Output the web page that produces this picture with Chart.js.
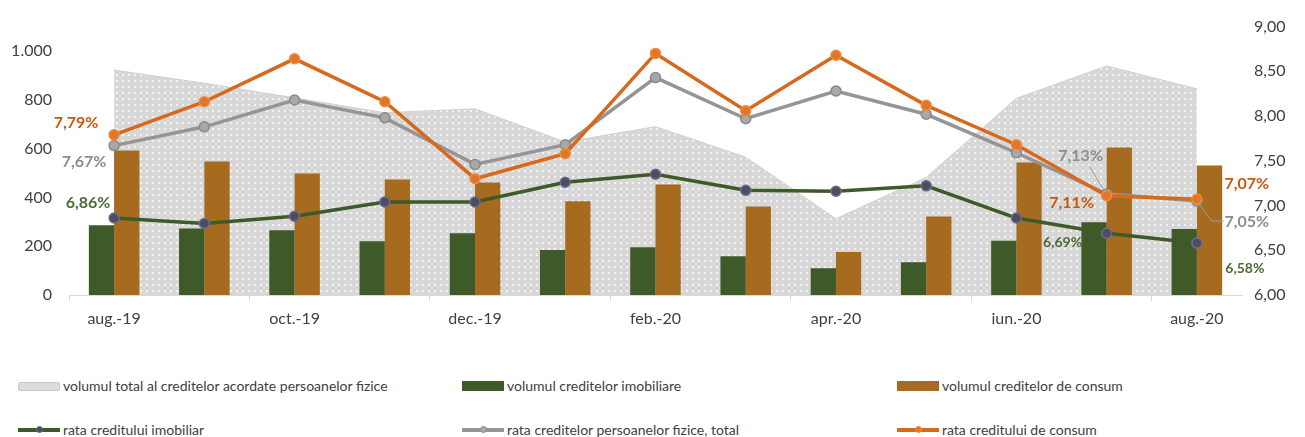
<!DOCTYPE html>
<html>
<head>
<meta charset="utf-8">
<script src="https://cdn.jsdelivr.net/npm/chart.js@4.4.1/dist/chart.umd.min.js"></script>
<style>
	body { margin: 0; background: #fff; font-family: Lato, sans-serif; }
	#wrap { position: relative; width: 1305px; height: 437px; }
	#chartBox { position: absolute; left: 0; top: 0; width: 1305px; height: 345px; }
	.leg { position: absolute; height: 16px; font-size: 14px; line-height: 16px; color: #404040; white-space: nowrap; }
	.leg .sym { position: absolute; left: 0; top: 0; width: 42px; height: 16px; }
	.leg .txt { position: absolute; left: 45px; top: 0; }
</style>
</head>
<body>
<div id="wrap">
	<div id="chartBox"><canvas id="creditChart"></canvas></div>
	<div id="legend"></div>
</div>
<script>
"use strict";

var categories = ["aug.-19", "sep.-19", "oct.-19", "nov.-19", "dec.-19", "ian.-20", "feb.-20", "mar.-20", "apr.-20", "mai.-20", "iun.-20", "iul.-20", "aug.-20"];
var volumTotal = [922, 868, 808, 747, 763, 627, 690, 565, 313, 482, 806, 939, 845];
var volumImobiliare = [286, 273, 265, 220, 253, 184, 196, 159, 110, 134, 222, 298, 270];
var volumConsum = [592, 547, 498, 473, 461, 384, 453, 363, 176, 322, 543, 604, 531];
var rataImobiliar = [6.86, 6.80, 6.88, 7.04, 7.04, 7.26, 7.35, 7.17, 7.16, 7.22, 6.86, 6.69, 6.58];
var rataTotal = [7.67, 7.88, 8.18, 7.98, 7.46, 7.68, 8.43, 7.97, 8.28, 8.02, 7.59, 7.13, 7.05];
var rataConsum = [7.79, 8.16, 8.64, 8.16, 7.30, 7.58, 8.70, 8.06, 8.68, 8.12, 7.68, 7.11, 7.07];
var leftTicks = [0, 200, 400, 600, 800, 1000];
var rightTicks = [6, 6.5, 7, 7.5, 8, 8.5, 9];

var GREEN = "#3e5a28";
var BROWN = "#a66b1e";
var ORANGE = "#d8691c";
var GRAY = "#959595";

// dotted fill for the total volume area
function dotPattern() {
	var c = document.createElement("canvas");
	c.width = 6;
	c.height = 6;
	var g = c.getContext("2d");
	g.fillStyle = "#d7d7d7";
	g.fillRect(0, 0, 6, 6);
	g.fillStyle = "#f3f3f3";
	g.fillRect(2, 2, 2, 2);
	return g.createPattern(c, "repeat");
}

function pct(v) {
	return v.toFixed(2).replace(".", ",") + "%";
}

// labels at the first and last two points: [dataset, index, dx, dy, size, leader]
var labelSpots = [
	[3, 0, -26, -15, 16], [4, 0, -30, 16, 16], [5, 0, -38, -12, 16],
	[4, 11, -26, -38, 16, [[-17, -27], [-3, -4]]], [5, 11, -35, 7, 16], [3, 11, -44, 9, 14],
	[5, 12, 50, -15, 16], [4, 12, 50, 21, 16, [[2, 3], [15, 20], [27, 20]]], [3, 12, 48, 25, 14]
];

var pointLabels = {
	id: "pointLabels",
	afterDatasetsDraw: function (chart) {
		var ctx = chart.ctx;
		ctx.save();
		labelSpots.forEach(function (s) {
			var ds = chart.data.datasets[s[0]];
			var pt = chart.getDatasetMeta(s[0]).data[s[1]];
			if (s[5]) {
				ctx.strokeStyle = "#a0a0a0";
				ctx.lineWidth = 1;
				ctx.beginPath();
				s[5].forEach(function (p, i) {
					if (i === 0) ctx.moveTo(pt.x + p[0], pt.y + p[1]);
					else ctx.lineTo(pt.x + p[0], pt.y + p[1]);
				});
				ctx.stroke();
			}
			ctx.font = "bold " + s[4] + "px Lato, sans-serif";
			ctx.fillStyle = ds.labelColor;
			ctx.textAlign = "center";
			ctx.textBaseline = "middle";
			ctx.fillText(pct(ds.data[s[1]]), pt.x + s[2], pt.y + s[3]);
		});
		ctx.restore();
	},
};

function initCreditChart() {
	var el = document.getElementById("creditChart");
	return new Chart(el, {
		type: "bar",
		data: {
			labels: categories,
			datasets: [
				{
					type: "line",
					label: "volumul total al creditelor acordate persoanelor fizice",
					data: volumTotal,
					yAxisID: "y",
					fill: "origin",
					backgroundColor: dotPattern(),
					borderColor: "#d0d0d0",
					borderWidth: 1,
					pointRadius: 0,
					tension: 0,
					order: 10,
				},
				{
					label: "volumul creditelor imobiliare",
					data: volumImobiliare,
					yAxisID: "y",
					backgroundColor: GREEN,
					categoryPercentage: 0.56,
					barPercentage: 1,
					order: 5,
				},
				{
					label: "volumul creditelor de consum",
					data: volumConsum,
					yAxisID: "y",
					backgroundColor: BROWN,
					categoryPercentage: 0.56,
					barPercentage: 1,
					order: 5,
				},
				{
					type: "line",
					label: "rata creditului imobiliar",
					data: rataImobiliar,
					yAxisID: "y1",
					borderColor: GREEN,
					borderWidth: 3.5,
					pointRadius: 5,
					pointBackgroundColor: "#4d4d5c",
					pointBorderColor: "#6b6b95",
					pointBorderWidth: 1.5,
					labelColor: "#4f6a33",
					tension: 0,
					order: 3,
				},
				{
					type: "line",
					label: "rata creditelor persoanelor fizice, total",
					data: rataTotal,
					yAxisID: "y1",
					borderColor: GRAY,
					borderWidth: 3.5,
					pointRadius: 5,
					pointBackgroundColor: "#a8a8a8",
					pointBorderColor: "#8a8a8a",
					pointBorderWidth: 1.5,
					labelColor: "#8c8c8c",
					tension: 0,
					order: 2,
				},
				{
					type: "line",
					label: "rata creditului de consum",
					data: rataConsum,
					yAxisID: "y1",
					borderColor: ORANGE,
					borderWidth: 3.5,
					pointRadius: 5,
					pointBackgroundColor: "#e0762a",
					pointBorderColor: "#f08a3a",
					pointBorderWidth: 1.5,
					labelColor: "#c55a11",
					tension: 0,
					order: 1,
				},
			],
		},
		options: {
			responsive: true,
			maintainAspectRatio: false,
			animation: false,
			layout: {
				padding: { top: 25, left: 0, right: 0, bottom: 0 },
			},
			scales: {
				x: {
					offset: true,
					grid: {
						display: true,
						drawOnChartArea: false,
						drawTicks: true,
						tickLength: 6,
						color: function (c) {
							return c.index % 2 === 0 ? "#d9d9d9" : "rgba(0,0,0,0)";
						},
					},
					border: {
						display: true,
						color: "#d9d9d9",
					},
					ticks: {
						autoSkip: false,
						maxRotation: 0,
						padding: 8,
						color: "#404040",
						font: { family: "Lato, sans-serif", size: 16 },
						callback: function (v, i) {
							return i % 2 === 0 ? categories[i] : "";
						},
					},
					afterFit: function (s) {
						s.height = 50;
					},
				},
				y: {
					position: "left",
					min: 0,
					max: 1100,
					grid: { display: false, drawTicks: false },
					border: { display: false },
					afterBuildTicks: function (s) {
						s.ticks = leftTicks.map(function (v) { return { value: v }; });
					},
					ticks: {
						padding: 17,
						color: "#404040",
						font: { family: "Lato, sans-serif", size: 16 },
						callback: function (v) {
							return v >= 1000 ? "1." + String(v).slice(1) : String(v);
						},
					},
					afterFit: function (s) {
						s.width = 69;
					},
				},
				y1: {
					position: "right",
					min: 6,
					max: 9,
					grid: { display: false, drawTicks: false },
					border: { display: false },
					afterBuildTicks: function (s) {
						s.ticks = rightTicks.map(function (v) { return { value: v }; });
					},
					ticks: {
						padding: 12,
						color: "#404040",
						font: { family: "Lato, sans-serif", size: 16 },
						callback: function (v) {
							return v.toFixed(2).replace(".", ",");
						},
					},
					afterFit: function (s) {
						s.width = 63;
					},
				},
			},
			plugins: {
				legend: { display: false },
				tooltip: { enabled: false },
			},
		},
		plugins: [pointLabels],
	});
}

// Legend below the chart, three columns by two rows
function buildLegend(chart) {
	var box = document.getElementById("legend");
	var slots = [[18, 378], [462, 378], [897, 378], [18, 422], [462, 422], [897, 422]];
	chart.data.datasets.forEach(function (ds, k) {
		var item = document.createElement("div");
		item.className = "leg";
		item.style.left = slots[k][0] + "px";
		item.style.top = slots[k][1] + "px";
		var sym = document.createElement("div");
		sym.className = "sym";
		if (k === 0) {
			sym.innerHTML = '<div style="position:absolute;left:0;top:4px;width:40px;height:7px;border:1px solid #c9c9c9;border-radius:2px;background:#dcdcdc;"></div>';
		} else if (ds.type === "line") {
			sym.innerHTML = '<div style="position:absolute;left:0;top:6px;width:42px;height:4px;background:' + ds.borderColor + ';"></div>' +
				'<div style="position:absolute;left:18px;top:4px;width:5px;height:5px;border-radius:50%;background:' + ds.pointBackgroundColor + ';border:1px solid ' + ds.pointBorderColor + ';"></div>';
		} else {
			sym.innerHTML = '<div style="position:absolute;left:0;top:3px;width:42px;height:10px;background:' + ds.backgroundColor + ';"></div>';
		}
		var txt = document.createElement("div");
		txt.className = "txt";
		txt.textContent = ds.label;
		item.appendChild(sym);
		item.appendChild(txt);
		box.appendChild(item);
	});
}

(function () {
	var chart = initCreditChart();
	buildLegend(chart);
})();
</script>
</body>
</html>
